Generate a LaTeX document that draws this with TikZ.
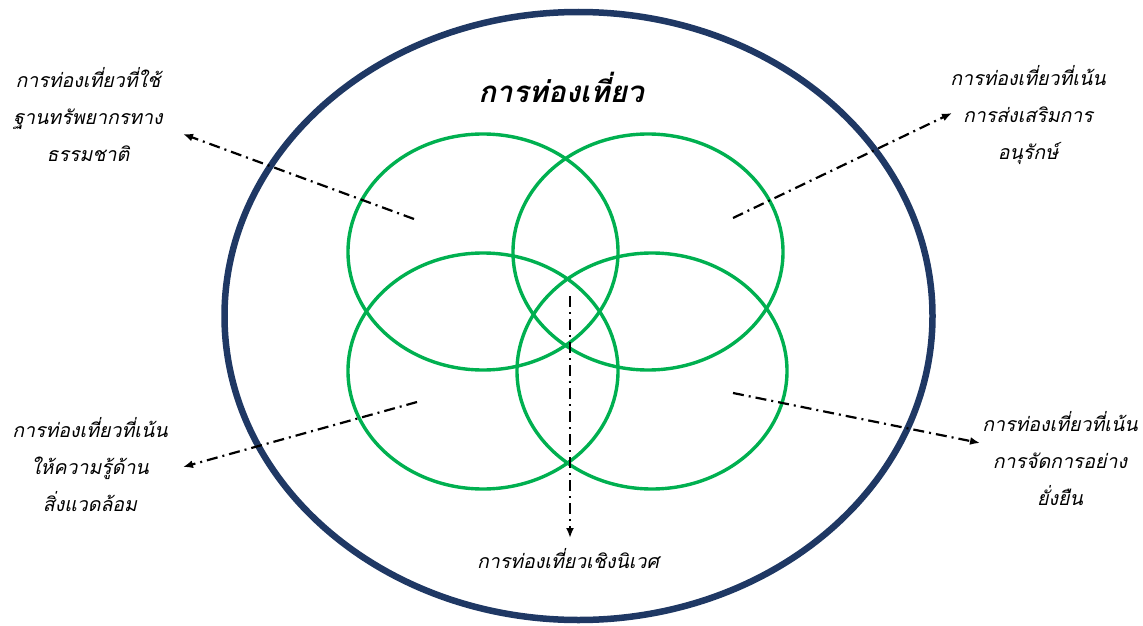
\documentclass[tikz,border=0pt]{standalone}
\usepackage{fontspec}
\usetikzlibrary{shapes.geometric,arrows.meta}
\newfontfamily\thai[Script=Thai,FakeSlant=0.22]{Loma}
\definecolor{navy}{HTML}{1F3864}
\definecolor{lgreen}{HTML}{00B050}
\tikzset{
  ring/.style={draw=lgreen,line width=3.4pt,ellipse,minimum width=270pt,minimum height=236pt,inner sep=0pt},
  outer/.style={draw=navy,line width=6.5pt,ellipse,minimum width=708pt,minimum height=608pt,inner sep=0pt},
  dd/.style={line width=2.2pt,dash pattern=on 11pt off 5pt on 2pt off 5pt,-{Latex[length=10pt,width=8pt]}},
  lbl/.style={font=\thai\fontsize{19.5}{37}\selectfont,align=center,inner sep=0pt}
}
\begin{document}
\begin{tikzpicture}[x=1pt,y=-1pt]
\useasboundingbox (0,0) rectangle (1143,626);
\node[outer] (big) at (578.5,316) {};
\node[ring] (tl) at (483,252) {};
\node[ring] (tr) at (648,252) {};
\node[ring] (bl) at (483,371) {};
\node[ring] (br) at (652,371) {};
\node[font=\thai\bfseries\fontsize{29.5}{34}\selectfont,inner sep=0pt] (title) at (561,87) {การท่องเที่ยว};
\node[lbl] (ltl) at (88,115) {การท่องเที่ยวที่ใช้\\ฐานทรัพยากรทาง\\ธรรมชาติ};
\node[lbl] (ltr) at (1028,115) {การท่องเที่ยวที่เน้น\\การส่งเสริมการ\\อนุรักษ์};
\node[lbl] (lbl) at (90,465) {การท่องเที่ยวที่เน้น\\ให้ความรู้ด้าน\\สิ่งแวดล้อม};
\node[lbl] (lbr) at (1060,459) {การท่องเที่ยวที่เน้น\\การจัดการอย่าง\\ยั่งยืน};
\node[lbl] (lbot) at (568,559) {การท่องเที่ยวเชิงนิเวศ};
\coordinate (s1) at (414,219); \coordinate (e1) at (183,134);
\coordinate (s2) at (733,218); \coordinate (e2) at (952,113);
\coordinate (s3) at (417,402); \coordinate (e3) at (183,467);
\coordinate (s4) at (733,393); \coordinate (e4) at (980,443);
\coordinate (s5) at (570,296); \coordinate (e5) at (570,538);
\draw[dd] (s1) -- (e1);
\draw[dd] (s2) -- (e2);
\draw[dd] (s3) -- (e3);
\draw[dd] (s4) -- (e4);
\draw[dd] (s5) -- (e5);
\end{tikzpicture}
\end{document}
